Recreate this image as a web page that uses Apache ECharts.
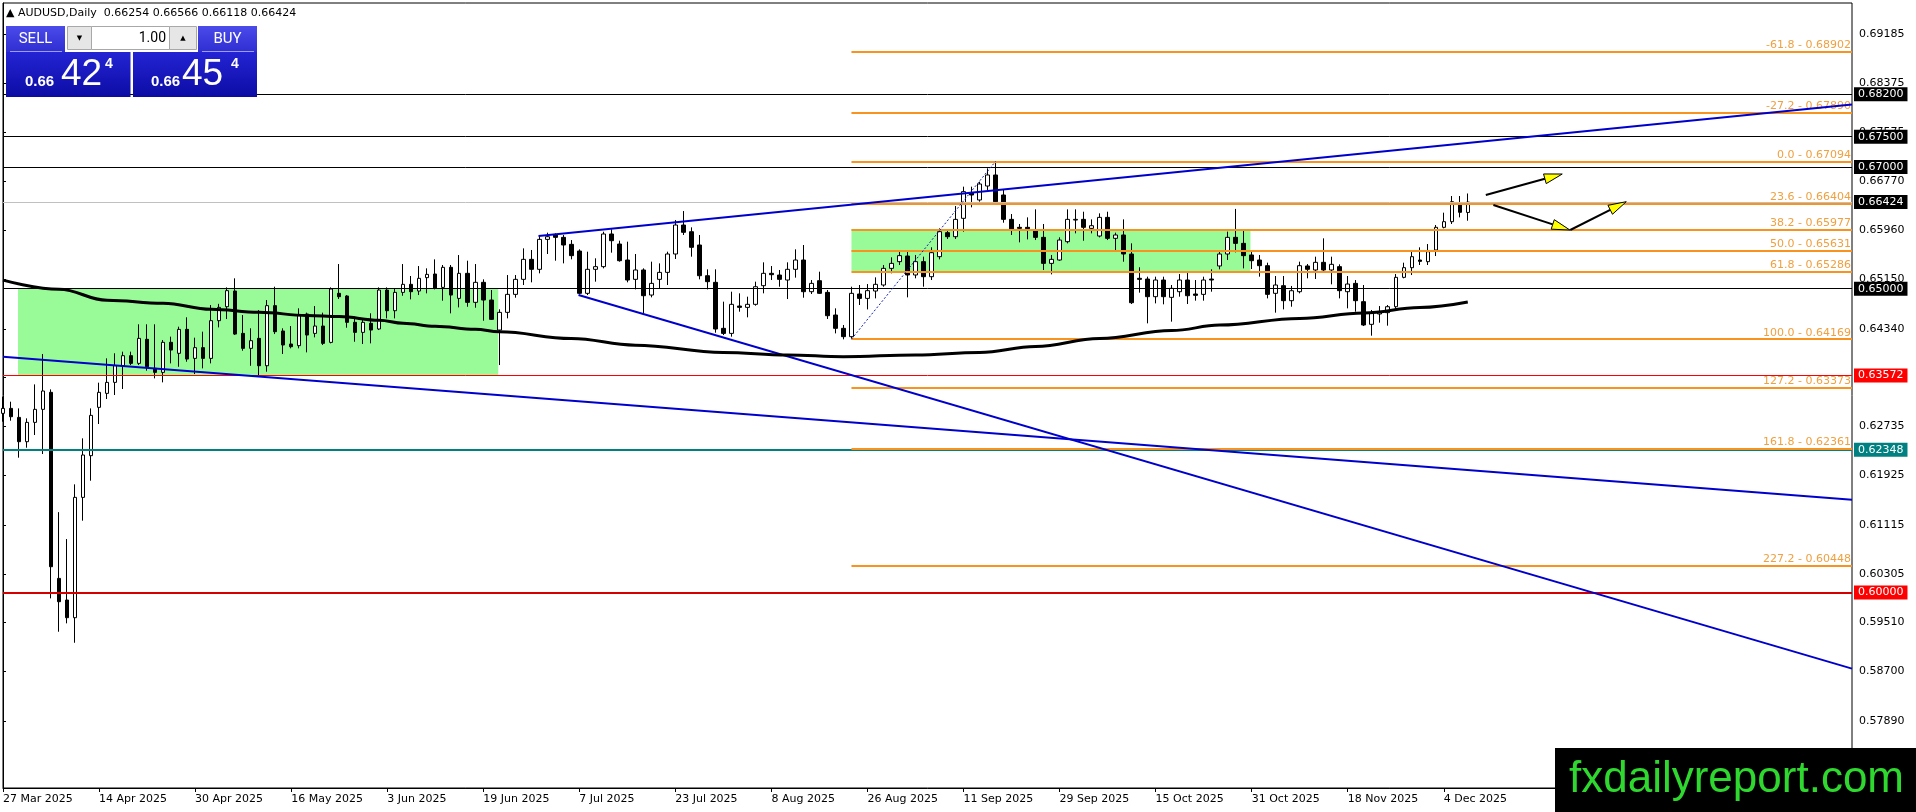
<!DOCTYPE html>
<html><head><meta charset="utf-8">
<script src="https://cdn.jsdelivr.net/npm/echarts@6/dist/echarts.min.js"></script>
<style>html,body{margin:0;padding:0;background:#fff;}#c{width:1916px;height:812px;}</style>
</head><body><div id="c"></div>
<script>
// ---------- data ----------
const dateLabels = ['27 Mar 2025','14 Apr 2025','30 Apr 2025','16 May 2025','3 Jun 2025','19 Jun 2025','7 Jul 2025','23 Jul 2025','8 Aug 2025','26 Aug 2025','11 Sep 2025','29 Sep 2025','15 Oct 2025','31 Oct 2025','18 Nov 2025','4 Dec 2025'];
const yTicks = [0.69185,0.68375,0.67575,0.66770,0.65960,0.65150,0.64340,0.63540,0.62735,0.61925,0.61115,0.60305,0.59510,0.58700,0.57890];
// [open, close, low, high]
const candles = [
[0.62948,0.63030,0.62811,0.63222],[0.63030,0.62893,0.62827,0.63140],[0.62882,0.62482,0.62219,0.63030],[0.62482,0.62800,0.62383,0.62866],
[0.62800,0.63014,0.62592,0.63425],[0.63014,0.63316,0.62279,0.63925],[0.63294,0.60425,0.59904,0.63343],[0.60233,0.59849,0.59355,0.61323],
[0.59877,0.59586,0.59493,0.60880],[0.59586,0.61566,0.59174,0.61780],[0.61566,0.62263,0.61182,0.62537],[0.62252,0.62915,0.61840,0.63030],
[0.63047,0.63294,0.62773,0.63453],[0.63277,0.63458,0.63184,0.63853],[0.63458,0.63733,0.63250,0.63936],[0.63733,0.63897,0.63349,0.63963],
[0.63897,0.63771,0.63743,0.63963],[0.63771,0.64182,0.63743,0.64413],[0.64166,0.63716,0.63650,0.64413],[0.63689,0.63623,0.63524,0.64413],
[0.63623,0.64117,0.63458,0.64155],[0.64117,0.63990,0.63771,0.64210],[0.63936,0.64330,0.63716,0.64374],[0.64330,0.63842,0.63798,0.64528],
[0.63853,0.64029,0.63595,0.64193],[0.64029,0.63853,0.63689,0.64292],[0.63853,0.64473,0.63771,0.64731],[0.64473,0.64692,0.64363,0.64750],
[0.64703,0.64967,0.64500,0.65021],[0.64961,0.64253,0.64237,0.65170],[0.64264,0.64018,0.63979,0.64566],[0.64018,0.64144,0.63732,0.64347],
[0.64182,0.63732,0.63579,0.64648],[0.63732,0.64720,0.63634,0.64813],[0.64720,0.64292,0.64253,0.65032],[0.64303,0.64073,0.63925,0.64347],
[0.64089,0.64045,0.64018,0.64385],[0.64062,0.64566,0.64018,0.64676],[0.64583,0.64237,0.63952,0.64605],[0.64264,0.64385,0.64199,0.64714],
[0.64385,0.64100,0.64073,0.64605],[0.64116,0.64994,0.64100,0.65021],[0.64923,0.64868,0.64830,0.65405],[0.64879,0.64446,0.64358,0.64895],
[0.64446,0.64281,0.64127,0.64539],[0.64281,0.64446,0.64089,0.64511],[0.64429,0.64319,0.64100,0.64594],[0.64336,0.64977,0.64319,0.65021],
[0.64977,0.64637,0.64511,0.65021],[0.64637,0.64939,0.64511,0.65005],[0.64939,0.65071,0.64884,0.65405],[0.65071,0.64950,0.64824,0.65208],
[0.64961,0.65170,0.64895,0.65372],[0.65181,0.65235,0.64923,0.65334],[0.65241,0.65005,0.64988,0.65482],[0.65021,0.65351,0.64802,0.65389],
[0.65351,0.64895,0.64594,0.65389],[0.64840,0.65252,0.64692,0.65553],[0.65252,0.64775,0.64703,0.65460],[0.64775,0.65104,0.64687,0.65405],
[0.65104,0.64813,0.64473,0.65153],[0.64813,0.64495,0.64484,0.64978],[0.64319,0.64610,0.63743,0.64660],[0.64610,0.64906,0.64511,0.65224],
[0.64906,0.65153,0.64851,0.65224],[0.65153,0.65482,0.65060,0.65663],[0.65482,0.65318,0.65104,0.65636],[0.65318,0.65811,0.65252,0.65866],
[0.65811,0.65855,0.65570,0.65921],[0.65883,0.65844,0.65460,0.65910],[0.65844,0.65718,0.65416,0.65883],[0.65729,0.65543,0.65482,0.65800],
[0.65619,0.64923,0.64906,0.65647],[0.64923,0.65318,0.64895,0.65608],[0.65318,0.65362,0.65115,0.65499],[0.65362,0.65899,0.65334,0.65937],
[0.65899,0.65789,0.65592,0.65976],[0.65734,0.65460,0.65444,0.65789],[0.65471,0.65142,0.65104,0.65773],[0.65153,0.65307,0.64988,0.65570],
[0.65307,0.64884,0.64594,0.65334],[0.64895,0.65087,0.64857,0.65444],[0.65153,0.65268,0.65005,0.65416],[0.65268,0.65570,0.65060,0.65608],
[0.65570,0.66047,0.65488,0.66129],[0.66047,0.65927,0.65883,0.66277],[0.65937,0.65680,0.65526,0.66009],[0.65718,0.65213,0.65153,0.65883],
[0.65213,0.65115,0.64988,0.65318],[0.65104,0.64336,0.64275,0.65318],[0.64347,0.64264,0.64237,0.64786],[0.64264,0.64742,0.64210,0.64950],
[0.64714,0.64692,0.64621,0.64923],[0.64692,0.64742,0.64528,0.64868],[0.64742,0.65032,0.64720,0.65115],[0.65049,0.65252,0.64923,0.65433],
[0.65252,0.65230,0.65142,0.65372],[0.65224,0.65153,0.65032,0.65307],[0.65142,0.65318,0.64829,0.65433],[0.65318,0.65471,0.65181,0.65647],
[0.65471,0.64950,0.64851,0.65718],[0.64950,0.65087,0.64912,0.65142],[0.65131,0.64923,0.64912,0.65279],[0.64939,0.64555,0.64501,0.64978],
[0.64566,0.64347,0.64264,0.64676],[0.64347,0.64210,0.64166,0.64402],[0.64210,0.64923,0.64169,0.65032],[0.64912,0.64840,0.64731,0.65060],
[0.64840,0.64967,0.64659,0.65076],[0.64961,0.65071,0.64840,0.65186],[0.65060,0.65334,0.65032,0.65389],[0.65334,0.65416,0.65252,0.65515],
[0.65444,0.65543,0.65389,0.65608],[0.65537,0.65225,0.64857,0.65619],[0.65225,0.65444,0.65170,0.65554],[0.65444,0.65197,0.65032,0.65526],
[0.65197,0.65592,0.65142,0.65680],[0.65526,0.65938,0.65482,0.65992],[0.65921,0.65855,0.65817,0.65965],[0.65855,0.66140,0.65817,0.66360],
[0.66157,0.66596,0.65938,0.66678],[0.66579,0.66541,0.66338,0.66678],[0.66459,0.66722,0.66431,0.66760],[0.66689,0.66870,0.66623,0.66980],
[0.66870,0.66431,0.66420,0.67094],[0.66541,0.66140,0.66085,0.66623],[0.66140,0.65965,0.65883,0.66228],[0.66009,0.65992,0.65762,0.66064],
[0.66009,0.65987,0.65811,0.66173],[0.65965,0.65844,0.65800,0.66305],[0.65844,0.65416,0.65307,0.66064],[0.65416,0.65482,0.65235,0.65554],
[0.65471,0.65800,0.65460,0.65844],[0.65773,0.66140,0.65745,0.66305],[0.66129,0.66140,0.65910,0.66305],[0.66140,0.66009,0.65789,0.66266],
[0.65992,0.66036,0.65910,0.66140],[0.65866,0.66173,0.65844,0.66239],[0.66173,0.65828,0.65800,0.66266],[0.65828,0.65883,0.65608,0.65921],
[0.65883,0.65570,0.65444,0.66140],[0.65570,0.64769,0.64747,0.65745],[0.65170,0.65153,0.64934,0.65351],[0.65158,0.64868,0.64429,0.65197],
[0.64868,0.65142,0.64758,0.65197],[0.65142,0.64868,0.64742,0.65197],[0.64857,0.65005,0.64457,0.65060],[0.64950,0.65142,0.64868,0.65241],
[0.65142,0.64884,0.64747,0.65279],[0.64912,0.64890,0.64802,0.65142],[0.64906,0.65142,0.64802,0.65197],[0.65158,0.65142,0.64950,0.65318],
[0.65373,0.65570,0.65318,0.65625],[0.65570,0.65844,0.65471,0.65938],[0.65844,0.65745,0.65597,0.66312],[0.65745,0.65543,0.65334,0.65965],
[0.65554,0.65460,0.65323,0.65619],[0.65471,0.65378,0.65197,0.65554],[0.65378,0.64906,0.64840,0.65427],[0.64923,0.65060,0.64605,0.65208],
[0.65049,0.64802,0.64659,0.65208],[0.64802,0.64966,0.64703,0.65044],[0.64950,0.65378,0.64923,0.65444],[0.65373,0.65318,0.65170,0.65405],
[0.65307,0.65433,0.65159,0.65526],[0.65433,0.65307,0.65263,0.65828],[0.65307,0.65400,0.65071,0.65526],[0.65362,0.64967,0.64840,0.65400],
[0.64950,0.65076,0.64676,0.65208],[0.65087,0.64802,0.64621,0.65142],[0.64786,0.64402,0.64385,0.65060],[0.64413,0.64605,0.64226,0.64649],
[0.64583,0.64605,0.64440,0.64714],[0.64605,0.64703,0.64391,0.64731],[0.64703,0.65186,0.64659,0.65241],[0.65186,0.65345,0.65170,0.65427],
[0.65345,0.65526,0.65224,0.65619],[0.65471,0.65449,0.65389,0.65680],[0.65444,0.65608,0.65389,0.65734],[0.65636,0.66009,0.65537,0.66047],
[0.66009,0.66102,0.65992,0.66250],[0.66102,0.66431,0.66064,0.66524],[0.66404,0.66256,0.66173,0.66524],[0.66254,0.66424,0.66118,0.66566]
];
const maIndex = [0,7,13,20,26,32,38,42,47,50,54,59,62,71,79,90,98,105,114,122,129,137,146,152,162,170,177,183];
const maValues = [0.6514,0.6499,0.6481,0.6476,0.6466,0.6461,0.6456,0.6454,0.6448,0.6443,0.6438,0.6433,0.6429,0.6418,0.6407,0.6395,0.6391,0.6388,0.6391,0.6395,0.6405,0.6418,0.6431,0.6440,0.6451,0.6460,0.6469,0.6478];
const hLevels = [0.68200,0.67500,0.67000,0.66424,0.65000,0.63572,0.62348,0.60000];
const fibRatios = [-61.8,-27.2,0.0,23.6,38.2,50.0,61.8,100.0,127.2,161.8,227.2];
const fibPrices = [0.68902,0.67890,0.67094,0.66404,0.65977,0.65631,0.65286,0.64169,0.63373,0.62361,0.60448];
const fibStartBar = 106;
const zones = [[1.875,61.875,0.63572,0.65000],[106,155.85,0.65286,0.65977]];
const trendUpper = [[66.9,0.65866],[231,0.68030]];
const trendSteep = [[71.9,0.64895],[231,0.58748]];
const trendLong = [[0,0.63878],[231,0.61525]];
const fibSwing = [[106,0.64169],[124,0.67094]];
const arrows = [[185.25,0.66541,194.8,0.66886],[186.2,0.66376,195.75,0.65965],[195.8,0.65965,202.8,0.66431]];
const quote = ['0.66254','0.66566','0.66118','0.66424'];
const bidParts = ['0.66','42','4'];
const askParts = ['0.66','45','4'];
const slotCount = 232;

// ---------- chart ----------
const FONT = '"DejaVu Sans", sans-serif';
const lastSlot = slotCount - 1;
const slots = Array.from({length: slotCount}, (_, i) => String(i));
const labelEvery = 12;
const showDate = (idx) => idx % labelEvery === 0 && (idx / labelEvery) < dateLabels.length;

const levelStyles = [
  {c:'#000000', w:1, bg:'#000000'},
  {c:'#000000', w:1, bg:'#000000'},
  {c:'#000000', w:1, bg:'#000000'},
  {c:'#C0C0C0', w:1, bg:'#000000'},
  {c:'#000000', w:1, bg:'#000000'},
  {c:'#FF0000', w:1, bg:'#FF0000'},
  {c:'#008080', w:2, bg:'#008080'},
  {c:'#D40000', w:2, bg:'#FF0000'}
];

const levelLines = hLevels.map((p, k) => [
  {coord:[0, p], lineStyle:{color:levelStyles[k].c, width:levelStyles[k].w, type:'solid'},
   label:{show:true, position:'end', formatter:p.toFixed(5), color:'#fff', backgroundColor:levelStyles[k].bg,
          padding:[2,4,1,4], fontSize:11, fontFamily:FONT, distance:2}},
  {coord:[lastSlot, p]}
]);

const fibLines = fibPrices.map((p, k) => [
  {coord:[fibStartBar, p], lineStyle:{color:'#F7931E', width:2.2, type:'solid', opacity:1},
   label:{show:true, position:'insideEndTop', formatter:fibRatios[k].toFixed(1) + ' - ' + p.toFixed(5),
          color:'#EFA040', fontSize:11, fontFamily:FONT, distance:1}},
  {coord:[lastSlot, p], lineStyle:{color:'#F7931E', width:2.2, type:'solid', opacity:1}}
]);

function renderArrow(params, api) {
  const p0 = api.coord([api.value(0), api.value(1)]);
  const p1 = api.coord([api.value(2), api.value(3)]);
  const dx = p1[0]-p0[0], dy = p1[1]-p0[1];
  const len = Math.hypot(dx, dy);
  const ux = dx/len, uy = dy/len, nx = -uy, ny = ux;
  const hl = 18, hw = 5;
  const bx = p1[0]-ux*hl, by = p1[1]-uy*hl;
  return {type:'group', children:[
    {type:'line', shape:{x1:p0[0], y1:p0[1], x2:bx, y2:by}, style:{stroke:'#000', lineWidth:2}},
    {type:'polygon', shape:{points:[[p1[0],p1[1]],[bx+nx*hw,by+ny*hw],[bx-nx*hw,by-ny*hw]]},
     style:{fill:'#FFFF00', stroke:'#000', lineWidth:1}}
  ]};
}

function renderZone(params, api) {
  const a = api.coord([api.value(0), api.value(3)]);
  const b = api.coord([api.value(1), api.value(2)]);
  return {type:'rect', shape:{x:a[0], y:a[1], width:b[0]-a[0], height:b[1]-a[1]}, style:{fill:'#98FB98'}};
}

const trendLine = (data, name) => ({
  type:'line', name, xAxisIndex:1, yAxisIndex:0, data, symbol:'none', z:5, silent:true,
  lineStyle:{color:'#0000CD', width:2}, clip:true
});

const blueGrad = () => new echarts.graphic.LinearGradient(0,0,0,1,[{offset:0,color:'#4B4BEA'},{offset:1,color:'#2E2ED2'}]);
const darkGrad = () => new echarts.graphic.LinearGradient(0,0,0,1,[{offset:0,color:'#2424D4'},{offset:1,color:'#0C0CA4'}]);

const chart = echarts.init(document.getElementById('c'), null, {renderer:'canvas'});
chart.setOption({
  animation:false,
  backgroundColor:'#ffffff',
  grid:{left:3, top:3, width:1849, height:785, show:true, borderColor:'#000', borderWidth:1, backgroundColor:'transparent'},
  xAxis:[
    {type:'category', data:slots, boundaryGap:false,
     axisLine:{lineStyle:{color:'#000', width:1}},
     axisTick:{show:true, interval:showDate, length:4, lineStyle:{color:'#000'}},
     axisLabel:{show:true, interval:showDate, formatter:(v, idx) => dateLabels[idx/labelEvery] || '',
                align:'left', color:'#000', fontSize:11, fontFamily:FONT, margin:6},
     splitLine:{show:false}},
    {type:'value', min:0, max:lastSlot, show:false}
  ],
  yAxis:[{type:'value', position:'right', min:0.56784, max:0.69700, scale:true,
    axisLine:{show:true, lineStyle:{color:'#000'}},
    axisTick:{show:true, customValues:yTicks, length:3, lineStyle:{color:'#000'}},
    axisLabel:{show:true, customValues:yTicks, formatter:(v) => Number(v).toFixed(5), color:'#000', fontSize:11, fontFamily:FONT, margin:7},
    splitLine:{show:false}}],
  series:[
    {type:'custom', name:'zones', xAxisIndex:1, yAxisIndex:0, renderItem:renderZone, data:zones, z:1, silent:true,
     encode:{x:[0,1], y:[2,3]}},
    {type:'candlestick', name:'AUDUSD', xAxisIndex:0, yAxisIndex:0, data:candles, barWidth:4, z:3, clip:true, silent:true,
     itemStyle:{color:'#ffffff', color0:'#000000', borderColor:'#000000', borderColor0:'#000000', borderWidth:1}},
    {type:'line', name:'levels', xAxisIndex:1, yAxisIndex:0, data:[], z:4, silent:true,
     markLine:{silent:true, symbol:['none','none'], animation:false, data:levelLines}},
    {type:'line', name:'fibo', xAxisIndex:1, yAxisIndex:0, data:[], z:4, silent:true,
     markLine:{silent:true, symbol:['none','none'], animation:false, lineStyle:{color:'#F7931E', width:2.2, type:'solid'}, data:fibLines}},
    trendLine(trendLong, 'trendLong'),
    trendLine(trendUpper, 'trendUpper'),
    trendLine(trendSteep, 'trendSteep'),
    {type:'line', name:'fibSwing', xAxisIndex:1, yAxisIndex:0, data:fibSwing, symbol:'none', z:5, silent:true,
     lineStyle:{color:'#1020B0', width:1, type:[2,2]}},
    {type:'line', name:'MA', xAxisIndex:1, yAxisIndex:0, data:maIndex.map((x, k) => [x, maValues[k]]), symbol:'none',
     smooth:0.4, smoothMonotone:'x', z:6, silent:true, lineStyle:{color:'#000', width:3}},
    {type:'custom', name:'arrows', xAxisIndex:1, yAxisIndex:0, renderItem:renderArrow, data:arrows, z:7, silent:true,
     encode:{x:[0,2], y:[1,3]}}
  ],
  graphic:[
    {type:'text', x:6, y:13, z:50, style:{text:'\u25B2 AUDUSD,Daily  ' + quote.join(' '), fill:'#000', font:'11px ' + FONT, verticalAlign:'middle'}},
    // trade panel
    {type:'rect', z:50, shape:{x:6, y:26, width:59, height:26}, style:{fill:blueGrad()}},
    {type:'rect', z:50, shape:{x:198, y:26, width:59, height:26}, style:{fill:blueGrad()}},
    {type:'rect', z:50, shape:{x:6, y:52, width:124.5, height:45}, style:{fill:darkGrad()}},
    {type:'rect', z:50, shape:{x:133, y:52, width:124, height:45}, style:{fill:darkGrad()}},
    {type:'line', z:51, shape:{x1:10, y1:51.5, x2:62, y2:51.5}, style:{stroke:'#9C9CF0', lineWidth:1}},
    {type:'line', z:51, shape:{x1:202, y1:51.5, x2:254, y2:51.5}, style:{stroke:'#9C9CF0', lineWidth:1}},
    {type:'rect', z:50, shape:{x:67.5, y:26.5, width:24, height:23}, style:{fill:'#E6E6E6', stroke:'#A8A8A8', lineWidth:1}},
    {type:'rect', z:50, shape:{x:91.5, y:26.5, width:78, height:23}, style:{fill:'#FFFFFF', stroke:'#A8A8A8', lineWidth:1}},
    {type:'rect', z:50, shape:{x:169.5, y:26.5, width:27, height:23}, style:{fill:'#E6E6E6', stroke:'#A8A8A8', lineWidth:1}},
    {type:'text', z:52, x:79.5, y:38, style:{text:'\u25BC', fill:'#000', font:'7px ' + FONT, align:'center', verticalAlign:'middle'}},
    {type:'text', z:52, x:183, y:38, style:{text:'\u25B2', fill:'#000', font:'7px ' + FONT, align:'center', verticalAlign:'middle'}},
    {type:'text', z:52, x:166, y:38, style:{text:'1.00', fill:'#000', font:'14px Roboto', align:'right', verticalAlign:'middle'}},
    {type:'text', z:52, x:35.5, y:39, style:{text:'SELL', fill:'#fff', font:'15px Roboto', align:'center', verticalAlign:'middle'}},
    {type:'text', z:52, x:227.5, y:39, style:{text:'BUY', fill:'#fff', font:'15px Roboto', align:'center', verticalAlign:'middle'}},
    {type:'text', z:52, x:25, y:89, style:{text:bidParts[0], fill:'#fff', font:'bold 15px "Liberation Sans"', verticalAlign:'bottom'}},
    {type:'text', z:52, x:61, y:93, style:{text:bidParts[1], fill:'#fff', font:'37px "Liberation Sans"', verticalAlign:'bottom'}},
    {type:'text', z:52, x:105, y:71, style:{text:bidParts[2], fill:'#fff', font:'bold 14px "Liberation Sans"', verticalAlign:'bottom'}},
    {type:'text', z:52, x:151, y:89, style:{text:askParts[0], fill:'#fff', font:'bold 15px "Liberation Sans"', verticalAlign:'bottom'}},
    {type:'text', z:52, x:182, y:93, style:{text:askParts[1], fill:'#fff', font:'37px "Liberation Sans"', verticalAlign:'bottom'}},
    {type:'text', z:52, x:231, y:71, style:{text:askParts[2], fill:'#fff', font:'bold 14px "Liberation Sans"', verticalAlign:'bottom'}},
    // watermark
    {type:'rect', z:60, shape:{x:1555, y:748, width:361, height:64}, style:{fill:'#000'}},
    {type:'text', z:61, x:1569, y:780, style:{text:'fxdailyreport.com', fill:'#2ED82E', font:'44px "Liberation Sans"', verticalAlign:'middle'}}
  ]
});
</script>
</body></html>
